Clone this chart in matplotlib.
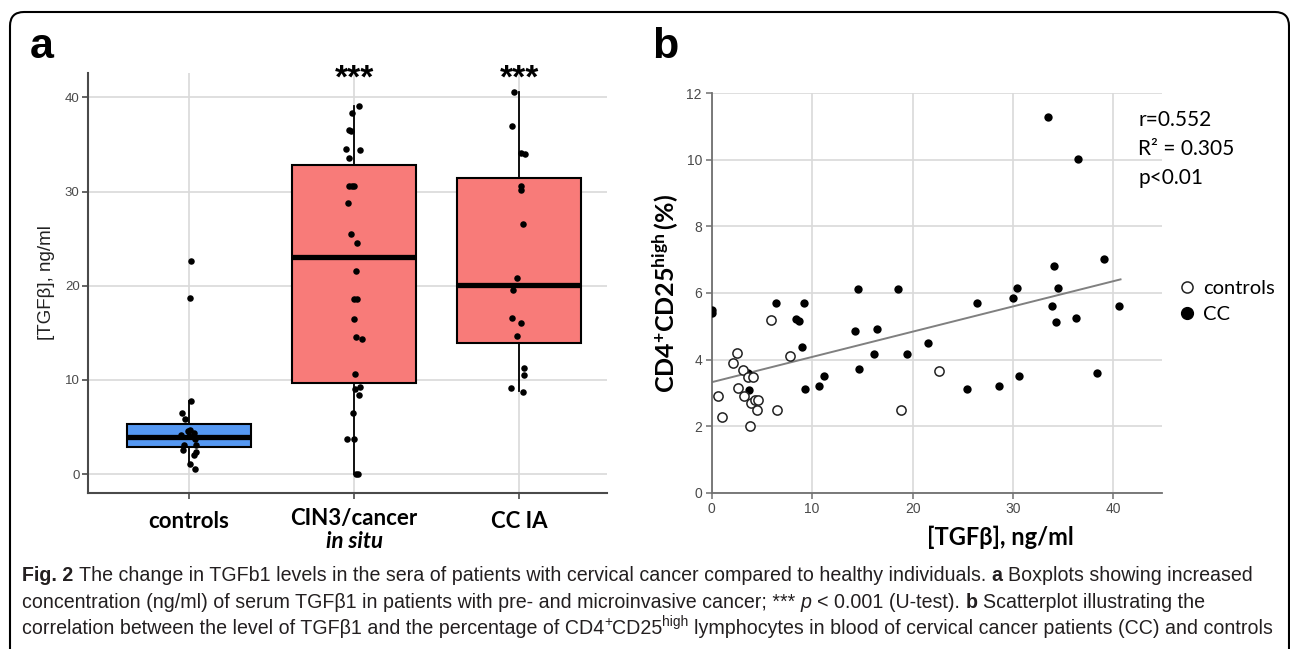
import numpy as np
import matplotlib
matplotlib.use('Agg')
import matplotlib.pyplot as plt
from matplotlib.patches import FancyBboxPatch
from matplotlib.lines import Line2D
from matplotlib.transforms import IdentityTransform

# панель a: TGFβ в сыворотке по группам
groups = ['controls', 'CIN3/cancer', 'CC IA']
ctrl_vals = [22.6, 18.75, 7.8, 6.5, 5.9, 4.7, 4.6, 4.35, 4.2, 4.0, 3.75, 3.1, 3.05, 2.6, 2.4, 2.05, 1.05, 0.55]
cin_vals = [39.1, 38.3, 36.6, 36.4, 34.5, 34.45, 33.55, 30.65, 30.65, 30.65, 28.8, 25.5, 24.5, 21.55,
            18.6, 18.6, 16.5, 14.55, 14.35, 10.6, 9.05, 9.25, 8.45, 6.5, 3.7, 3.7, 0.0, 0.0]
ccia_vals = [40.6, 37.0, 34.15, 33.95, 30.55, 30.2, 26.55, 20.8, 19.6, 16.55, 16.1, 14.7, 11.3, 10.55, 9.1, 8.7]

# смещения точек по x (джиттер), в пикселях
ctrl_jit = [2, 1, 2, -7, -4, 1, -1, 5, -8, 0, 6, -5, 7, -6, 7, 5, 1, 6]
cin_jit = [4.7, -1.7, -5.6, -3.3, -7.7, 6, -5.3, -5, -2.3, 0, -6.3, -3.3, 2.7, 1.7,
           0, 2.4, 0, 1.7, 7.7, 0.7, 0.7, 5.7, 4.7, -1.3, -7.6, 0, 1.7, 4]
ccia_jit = [-5.3, -7.7, 1.7, 6, 2, 1.3, 3.3, -2.7, -6, -7.7, 1.7, -2.7, 5, 5, -8.3, 4]

# статистики боксплотов
box_q1 = [2.87, 9.73, 13.9]
box_med = [3.9, 23.1, 20.1]
box_q3 = [5.3, 32.85, 31.45]
box_lo = [1.0, 0.0, 8.8]
box_hi = [7.8, 39.1, 40.6]
box_colors = ['#5598f2', '#f87b79']
signif = ['', '***', '***']

# панель b: TGFβ vs CD4+CD25high
cc_x = [0, 0, 6.4, 9.16, 8.43, 8.66, 8.96, 9.26, 10.66, 11.2, 3.68, 3.6, 14.57, 14.27, 14.64, 16.16,
        16.46, 18.52, 19.42, 21.51, 25.4, 33.5, 36.45, 28.65, 30.64, 26.42, 30.04, 30.41, 34.06,
        34.43, 33.83, 34.29, 36.22, 39.1, 40.57, 38.31]
cc_y = [5.49, 5.41, 5.71, 5.71, 5.22, 5.17, 4.37, 3.12, 3.22, 3.5, 3.1, 3.6, 6.11, 4.85, 3.71, 4.17,
        4.91, 6.11, 4.17, 4.51, 3.12, 11.3, 10.02, 3.22, 3.5, 5.71, 5.84, 6.15, 6.81,
        6.15, 5.6, 5.12, 5.26, 7.01, 5.6, 3.6]
ctl_x = [0.66, 1.03, 5.9, 2.49, 2.15, 7.83, 3.15, 3.65, 4.15, 2.59, 3.19, 3.92, 4.31, 4.65, 4.55,
         3.85, 6.5, 18.86, 22.6]
ctl_y = [2.91, 2.28, 5.19, 4.21, 3.91, 4.11, 3.69, 3.49, 3.49, 3.14, 2.91, 2.69, 2.79, 2.79, 2.49,
         2.0, 2.49, 2.49, 3.66]
fit_a, fit_b, fit_end = 3.32, 0.0759, 40.7
stats_text = ['r=0.552', 'R² = 0.305', 'p<0.01']

W, H = 1290, 649


def rect(x0, y0, x1, y1):
    # пиксели -> доли фигуры
    return [x0 / W, 1 - y1 / H, (x1 - x0) / W, (y1 - y0) / H]


plt.rcParams['font.family'] = ['Liberation Sans', 'DejaVu Sans']
plt.rcParams['mathtext.fontset'] = 'custom'
plt.rcParams['mathtext.rm'] = 'Lato'
plt.rcParams['mathtext.bf'] = 'Lato:bold'

calib = ['Lato', 'DejaVu Sans']
tick_col = '#4a4a4a'

fig = plt.figure(figsize=(W / 100, H / 100), dpi=100)

frame = FancyBboxPatch((10, -20), 1279, 657, boxstyle='round,pad=0,rounding_size=14',
                       fill=False, ec='black', lw=1.5, transform=IdentityTransform())
fig.add_artist(frame)

# ---- панель a ----
ax1 = fig.add_axes(rect(88, 73, 607, 493))
pos = np.arange(1, 4)
stats = [dict(med=box_med[i], q1=box_q1[i], q3=box_q3[i], whislo=box_lo[i], whishi=box_hi[i], fliers=[])
         for i in range(3)]
bp = ax1.bxp(stats, positions=pos, widths=0.75, patch_artist=True, showcaps=False, showfliers=False,
             boxprops=dict(edgecolor='black', linewidth=1.5),
             medianprops=dict(color='black', linewidth=3.8, solid_capstyle='butt'),
             whiskerprops=dict(color='black', linewidth=1.3))
for patch, col in zip(bp['boxes'], [box_colors[0], box_colors[1], box_colors[1]]):
    patch.set_facecolor(col)

for i, (vals, jit) in enumerate([(ctrl_vals, ctrl_jit), (cin_vals, cin_jit), (ccia_vals, ccia_jit)]):
    ax1.scatter(pos[i] + np.array(jit) / 166, vals, s=22, color='black', linewidths=0, zorder=4)

ax1.set_xlim(0.39, 3.53)
ax1.set_ylim(-2, 42.6)
ax1.set_yticks([0, 10, 20, 30, 40])
ax1.set_xticks(pos)
ax1.set_xticklabels([])
ax1.grid(True, color='#d9d9d9', lw=1.2)
ax1.set_axisbelow(True)
for s in ['top', 'right']:
    ax1.spines[s].set_visible(False)
for s in ['left', 'bottom']:
    ax1.spines[s].set_color(tick_col)
    ax1.spines[s].set_linewidth(1.5)
ax1.tick_params(length=4, width=1.2, color=tick_col, labelcolor=tick_col, labelsize=9.5, pad=2)
ax1.set_ylabel('[TGFβ], ng/ml', fontsize=13.5, color='#222222', labelpad=7)

for p, g in zip(pos, groups):
    if g == 'CIN3/cancer':
        ax1.annotate(g, xy=(p, 0), xycoords=('data', 'axes fraction'), xytext=(0, -26 * 0.72),
                     textcoords='offset points', ha='center', va='center', fontsize=16,
                     weight='bold', family=calib)
        ax1.annotate('in situ', xy=(p, 0), xycoords=('data', 'axes fraction'), xytext=(0, -48 * 0.72),
                     textcoords='offset points', ha='center', va='center', fontsize=16,
                     weight='bold', style='italic', family=calib)
    else:
        ax1.annotate(g, xy=(p, 0), xycoords=('data', 'axes fraction'), xytext=(0, -28 * 0.72),
                     textcoords='offset points', ha='center', va='center', fontsize=16,
                     weight='bold', family=calib)
for p, s in zip(pos, signif):
    if s:
        ax1.annotate(s, xy=(p, 1), xycoords=('data', 'axes fraction'), xytext=(0, -6 * 0.72),
                     textcoords='offset points', ha='center', va='center', fontsize=24, weight='bold')

fig.text(30 / W, 1 - 58 / H, 'a', fontsize=31, weight='bold', va='baseline')
fig.text(652 / W, 1 - 58 / H, 'b', fontsize=31, weight='bold', va='baseline')

# ---- панель b ----
ax2 = fig.add_axes(rect(711.7, 93.3, 1161.7, 492.7))
ax2.scatter(cc_x, cc_y, s=36, color='black', linewidths=0, zorder=3)
ax2.scatter(ctl_x, ctl_y, s=44, facecolors='white', edgecolors='#222222', linewidths=1.1, zorder=4)
xx = np.array([0, fit_end])
ax2.plot(xx, fit_a + fit_b * xx, color='#808080', lw=1.4, zorder=2.5)
ax2.set_xlim(0, 44.8)
ax2.set_ylim(0, 12)
ax2.set_xticks([0, 10, 20, 30, 40])
ax2.set_yticks(np.arange(0, 13, 2))
ax2.grid(True, color='#d9d9d9', lw=1.2)
ax2.set_axisbelow(True)
for s in ['top', 'right']:
    ax2.spines[s].set_visible(False)
for s in ['left', 'bottom']:
    ax2.spines[s].set_color('#707070')
    ax2.spines[s].set_linewidth(1.3)
ax2.tick_params(length=4, width=1.1, color='#707070', labelcolor=tick_col, labelsize=10, pad=3)
ax2.set_ylabel(r'$\mathbf{CD4^{+}CD25^{high}\,(\%)}$', fontsize=18, labelpad=4)
fig.text(1000 / W, 1 - 537 / H, '[TGFβ], ng/ml', fontsize=17, weight='bold', family=calib,
         ha='center', va='center')

for k, t in enumerate(stats_text):
    fig.text(1138 / W, 1 - (120 + 29 * k) / H, t, fontsize=15, family=calib, va='center')

handles = [Line2D([], [], ls='none', marker='o', ms=8, mfc='white', mec='#222222', mew=1.1),
           Line2D([], [], ls='none', marker='o', ms=8.5, mfc='black', mec='black')]
leg = fig.legend(handles, ['controls', 'CC'], loc='upper left', bbox_to_anchor=(1167 / W, 1 - 270 / H),
                 frameon=False, handlelength=1.0, handletextpad=0.3, labelspacing=0.45,
                 borderpad=0, prop={'family': calib, 'size': 14.5})

# ---- подпись ----
cap_font = ['Liberation Sans', 'DejaVu Sans']
cap_size = 14.1
lines = [
    [('Fig. 2', 'b', 0),
     ('The change in TGFb1 levels in the sera of patients with cervical cancer compared to healthy individuals.', 'n', 1),
     ('a', 'b', 1), ('Boxplots showing increased', 'n', 1)],
    [('concentration (ng/ml) of serum TGFβ1 in patients with pre- and microinvasive cancer; ***', 'n', 0),
     ('p', 'i', 1), ('< 0.001 (U-test).', 'n', 1), ('b', 'b', 1), ('Scatterplot illustrating the', 'n', 1)],
    [('correlation between the level of TGFβ1 and the percentage of CD4', 'n', 0), ('+', 'sup', 0),
     ('CD25', 'n', 0), ('high', 'sup', 0),
     ('lymphocytes in blood of cervical cancer patients (CC) and controls', 'n', 1)],
]
renderer = fig.canvas.get_renderer()


def width_of(s, **kw):
    t = fig.text(0, 0, s, **kw)
    w = t.get_window_extent(renderer).width
    t.remove()
    return w


gap = width_of('x x', family=cap_font, fontsize=cap_size) - width_of('xx', family=cap_font, fontsize=cap_size)
for row, runs in enumerate(lines):
    x = 22
    y = 581 + 26.5 * row
    for txt, st, sp in runs:
        kw = dict(family=cap_font, fontsize=cap_size, color='#231f20', va='baseline')
        dy = 0
        if st == 'b':
            kw['weight'] = 'bold'
        elif st == 'i':
            kw['style'] = 'italic'
        elif st == 'sup':
            kw['fontsize'] = cap_size * 0.7
            dy = 8
        if sp:
            x += gap
        t = fig.text(x / W, 1 - (y - dy) / H, txt, **kw)
        x += t.get_window_extent(renderer).width

fig.savefig('out.png', dpi=100)
